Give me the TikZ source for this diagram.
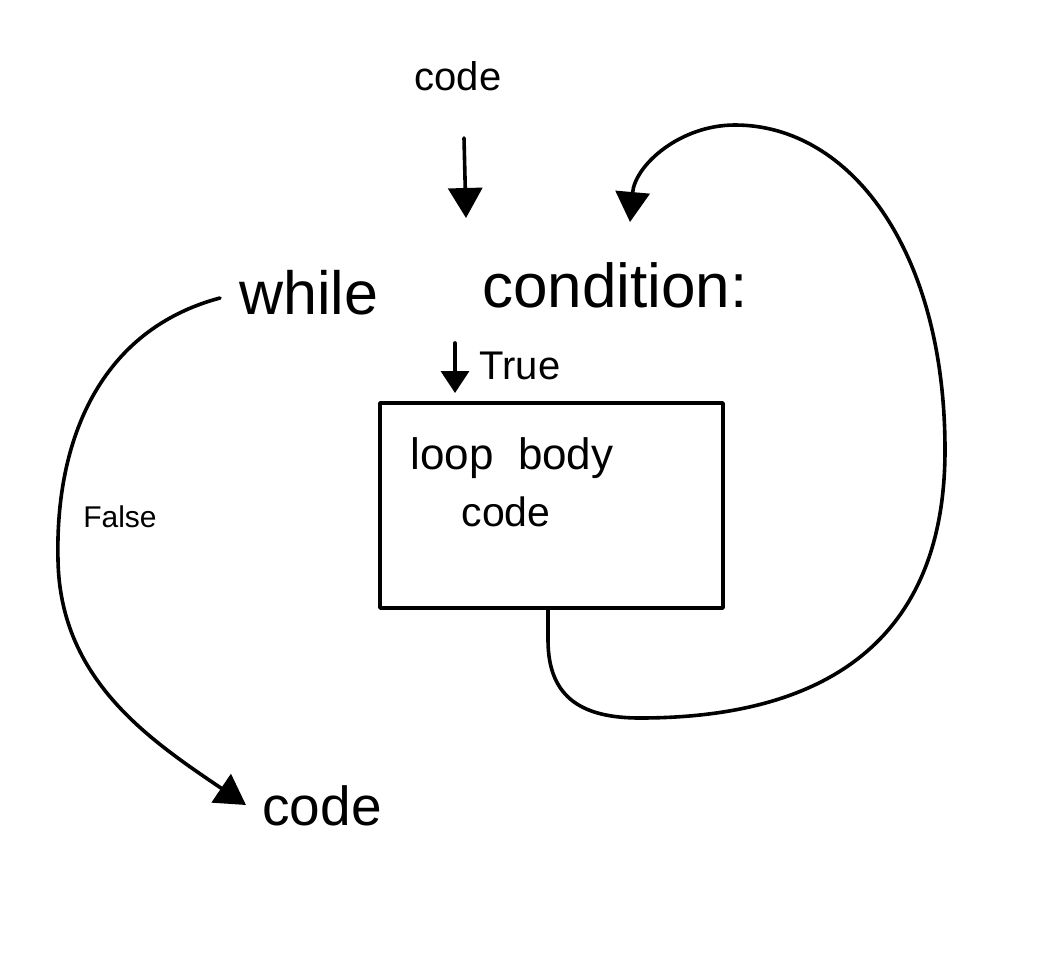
\documentclass[tikz,border=0pt]{standalone}
\usepackage{fontspec}
\setmainfont{Liberation Sans}
\usetikzlibrary{arrows.meta}
\begin{document}
\begin{tikzpicture}[x=1pt,y=-1pt,
  ink/.style={line width=3.6pt, line cap=round, line join=round},
  arr/.style={ink, -{Triangle[width=34pt,length=30pt]}},
  smallarr/.style={ink, -{Triangle[width=28pt,length=22pt]}},
  lbl/.style={inner sep=0pt, anchor=center}]
\fill[white] (0,0) rectangle (1037,967);
\useasboundingbox (0,0) rectangle (1037,967);

\node[lbl, font=\fontsize{40}{44}\selectfont] (code1) at (458,76) {code};
\node[lbl, font=\fontsize{61}{66}\selectfont] (while) at (309,293) {while};
\node[lbl, font=\fontsize{62}{68}\selectfont] (cond) at (615,285) {condition:};
\node[draw, ink, minimum width=343pt, minimum height=205pt, inner sep=0pt] (box) at (551.5,505.5) {};
\node[lbl, font=\fontsize{44}{48}\selectfont] (body) at (512,458) {loop\ \ body};
\node[lbl, font=\fontsize{41}{46}\selectfont] (code2) at (506,512) {code};
\node[lbl, font=\fontsize{40}{44}\selectfont] (true) at (520,366) {True};
\node[lbl, font=\fontsize{30}{34}\selectfont] (false) at (120,517) {False};
\node[lbl, font=\fontsize{55}{60}\selectfont] (code3) at (322,806) {code};

\coordinate (a1s) at (464,138);
\coordinate (a1e) at (466,218);
\coordinate (ts) at (455,343);
\coordinate (te) at (455,393);
\coordinate (ls) at (548,608);
\coordinate (le) at (630,222);
\coordinate (fs) at (220,298);
\coordinate (fe) at (246,805);

\draw[arr] (a1s) -- (a1e);
\draw[smallarr] (ts) -- (te);
\draw[arr] (ls) -- (548,640) .. controls (548,700) and (585,718) .. (640,718)
  .. controls (800,718) and (945,660) .. (945,450)
  .. controls (945,250) and (850,125) .. (735,125)
  .. controls (680,125) and (635,165) .. (le);
\draw[arr] (fs) .. controls (100,330) and (55,440) .. (58,560)
  .. controls (60,680) and (150,740) .. (fe);
\end{tikzpicture}
\end{document}
